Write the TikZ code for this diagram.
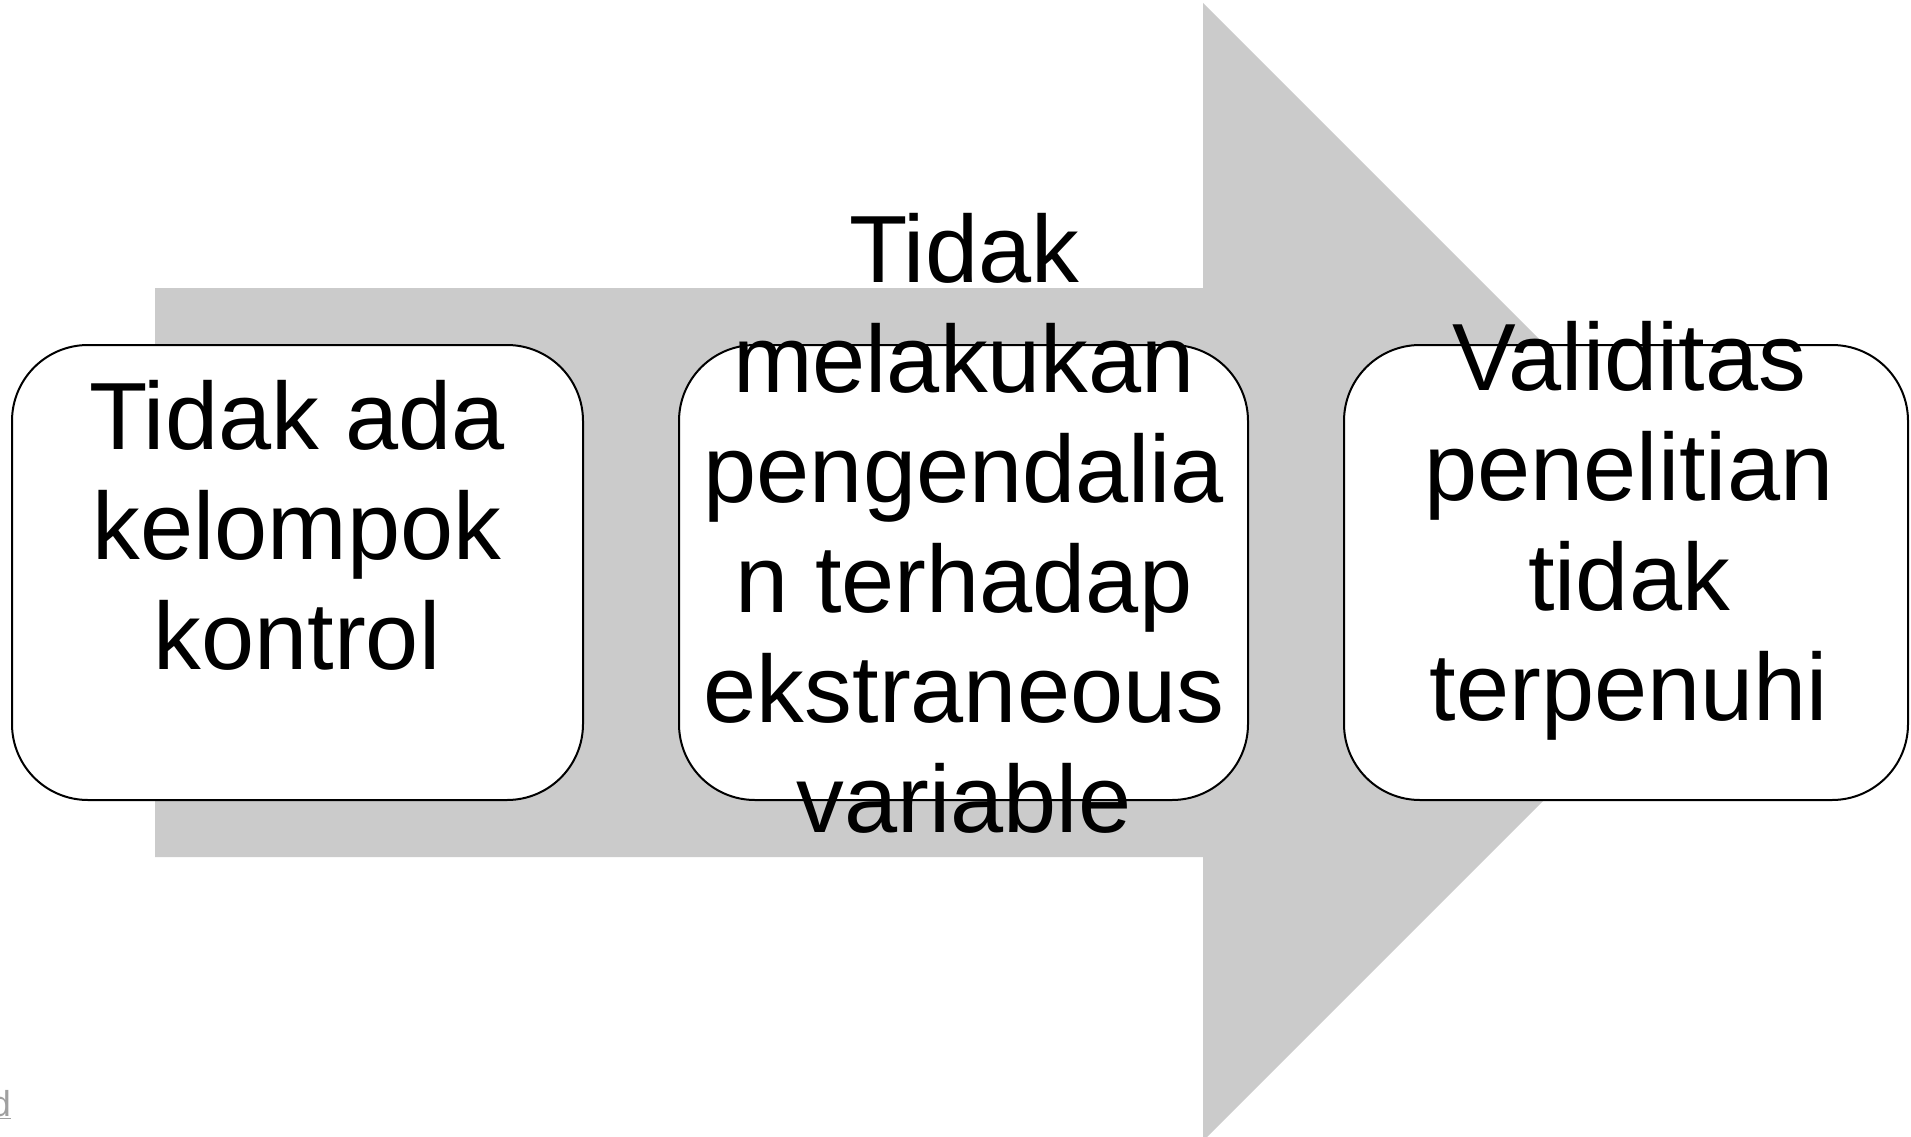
\documentclass[tikz,border=0pt]{standalone}
\usepackage{fontspec}
\setmainfont{Liberation Sans}
\definecolor{arrowgray}{RGB}{203,203,203}
\definecolor{linkgray}{RGB}{160,160,160}
\begin{document}
\begin{tikzpicture}[x=1pt,y=-1pt,
  stepbox/.style={draw=black, line width=2pt, fill=white, rounded corners=76pt, inner sep=0pt, minimum height=455pt},
  boxtext/.style={align=center, inner sep=0pt, anchor=base, font=\fontsize{95.5}{110}\selectfont}]
\useasboundingbox (0,0) rectangle (1911,1137);
\clip (0,0) rectangle (1911,1137);
% big arrow
\fill[arrowgray] (155,288) -- (1203,288) -- (1203,3) -- (1772,572) -- (1203,1141) -- (1203,857) -- (155,857) -- cycle;
% boxes
\node[stepbox, minimum width=571pt] (b1) at (297.5,572.5) {};
\node[stepbox, minimum width=569pt] (b2) at (963.5,572.5) {};
\node[stepbox, minimum width=564pt] (b3) at (1626,572.5) {};
% texts (anchored at the baseline of the last line)
\node[boxtext] (t1) at (297,669) {Tidak ada\\kelompok\\kontrol};
\node[boxtext] (t2) at (964,832) {Tidak\\melakukan\\pengendalia\\n terhadap\\ekstraneous\\variable};
\node[boxtext] (t3) at (1629,720) {Validitas\\penelitian\\tidak\\terpenuhi};
% cut-off link text
\node[anchor=base east, inner sep=0pt, text=linkgray, font=\fontsize{36}{40}\selectfont] (lnk) at (11,1116) {\underline{d}};
\end{tikzpicture}
\end{document}
